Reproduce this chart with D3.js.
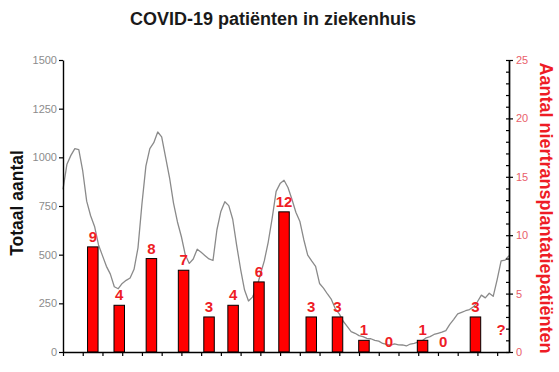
<html>
<head>
<meta charset="utf-8">
<script src="https://d3js.org/d3.v7.min.js"></script>
<style>
body { margin: 0; background-color: white; }
svg { font-family: "Liberation Sans", Arial, sans-serif; }
.tick line { stroke: black; }
</style>
</head>
<body>
<script>
// gray line: patients in hospital, one value every 0.2 month
var hospStep = 0.2;
var hospValues = [
  835, 965, 1010, 1045, 1040, 930, 775, 700, 645, 550,
  495, 440, 400, 335, 325, 352, 368, 380, 425, 535,
  760, 955, 1045, 1075, 1130, 1105, 1000, 895, 765, 668,
  592, 498, 455, 478, 528, 512, 495, 478, 470, 628,
  722, 772, 752, 682, 548, 425, 318, 262, 282, 325,
  398, 468, 565, 688, 825, 865, 882, 845, 785, 718,
  672, 578, 498, 468, 440, 352, 328, 298, 270, 222,
  196, 158, 132, 105, 96, 84, 79, 70, 68, 60,
  56, 44, 39, 35, 42, 37, 36, 31, 41, 44,
  52, 58, 73, 79, 90, 96, 102, 110, 142, 168,
  196, 204, 212, 218, 232, 258, 292, 278, 302, 286,
  372, 468, 472, 495
];

// red bars: kidney transplant patients
var barMonths = [1.51, 2.85, 4.48, 6.11, 7.40, 8.62, 9.93, 11.2, 12.58, 13.91, 15.25, 16.52, 18.22, 19.26, 20.9, 22.2];
var barValues = [9, 4, 8, 7, 3, 4, 6, 12, 3, 3, 1, 0, 1, 0, 3, null];
var barLabels = ["9", "4", "8", "7", "3", "4", "6", "12", "3", "3", "1", "0", "1", "0", "3", "?"];

var leftTicks = [0, 250, 500, 750, 1000, 1250, 1500];
var rightTicks = [0, 5, 10, 15, 20, 25];
var monthTicks = d3.range(0, 23);

var w = 559, h = 372;
var x0 = 63, x1 = 509, yTop = 60, yBot = 352;
var red = "#ee1c25";

var svg = d3.select("body").append("svg").attr("width", w).attr("height", h);

var xScale = d3.scaleLinear().domain([0, 22.6]).range([x0, x1]);
var yLeft = d3.scaleLinear().domain([0, 1500]).range([yBot, yTop]);
var yRight = d3.scaleLinear().domain([0, 25]).range([yBot, yTop]);

// title
svg.append("text").attr("x", 273).attr("y", 25).attr("text-anchor", "middle")
  .style("font-size", "18px").style("font-weight", "bold").attr("fill", "#1a1a1a")
  .text("COVID-19 patiënten in ziekenhuis");

// gray line
var line = d3.line().x(function(d, i){ return xScale(i * hospStep); }).y(function(d){ return yLeft(d); });
svg.append("path").attr("d", line(hospValues)).attr("fill", "none")
  .attr("stroke", "#8a8a8a").attr("stroke-width", 1.3).attr("stroke-linejoin", "round");

// bars
var bw = 10.5;
svg.append("g").selectAll("rect")
  .data(barValues.map(function(v, i){ return {m: barMonths[i], v: v}; }).filter(function(d){ return d.v > 0; }))
  .enter().append("rect")
  .attr("x", function(d){ return xScale(d.m) - bw / 2; })
  .attr("y", function(d){ return yRight(d.v); })
  .attr("width", bw)
  .attr("height", function(d){ return yRight(0) - yRight(d.v); })
  .attr("fill", "#ff0000").attr("stroke", "black").attr("stroke-width", 1);

// bar labels
svg.append("g").selectAll("text")
  .data(barLabels).enter().append("text")
  .attr("x", function(d, i){ return xScale(barMonths[i]); })
  .attr("y", function(d, i){ var v = barValues[i] == null ? 1 : barValues[i]; return yRight(v) - 5; })
  .attr("text-anchor", "middle").attr("fill", red)
  .style("font-size", "15px").style("font-weight", "bold")
  .text(function(d){ return d; });

// axes
var gx = svg.append("g").attr("transform", "translate(0," + yBot + ")")
  .call(d3.axisBottom(xScale).tickValues(monthTicks).tickFormat("").tickSize(4).tickSizeOuter(0));
var gl = svg.append("g").attr("transform", "translate(" + x0 + ",0)")
  .call(d3.axisLeft(yLeft).tickValues(leftTicks).tickFormat(d3.format("d")).tickSize(4).tickSizeOuter(0).tickPadding(2));
var grMinor = svg.append("g").attr("transform", "translate(" + x1 + ",0)")
  .call(d3.axisLeft(yRight).tickValues(d3.range(0, 26)).tickFormat("").tickSize(3).tickSizeOuter(0));
var gr = svg.append("g").attr("transform", "translate(" + x1 + ",0)")
  .call(d3.axisRight(yRight).tickValues(rightTicks).tickSize(4).tickSizeOuter(0).tickPadding(3));

[gx, gl, gr, grMinor].forEach(function(g){
  g.select(".domain").attr("stroke", "black").attr("stroke-width", 1.4);
  g.selectAll(".tick line").attr("stroke-width", 1.2);
});
gl.selectAll("text").attr("fill", "#8c8c8c").style("font-size", "11px");
gr.selectAll("text").attr("fill", "#e9606a").style("font-size", "11px");
gl.attr("font-family", null); gr.attr("font-family", null);

// axis titles
svg.append("text").attr("transform", "translate(23,203) rotate(-90)").attr("text-anchor", "middle")
  .style("font-size", "17.5px").style("font-weight", "bold").attr("fill", "#111")
  .text("Totaal aantal");
svg.append("text").attr("transform", "translate(540,208) rotate(90)").attr("text-anchor", "middle")
  .style("font-size", "18px").style("font-weight", "bold").attr("fill", red)
  .text("Aantal niertransplantatiepatiënten");
</script>
</body>
</html>
